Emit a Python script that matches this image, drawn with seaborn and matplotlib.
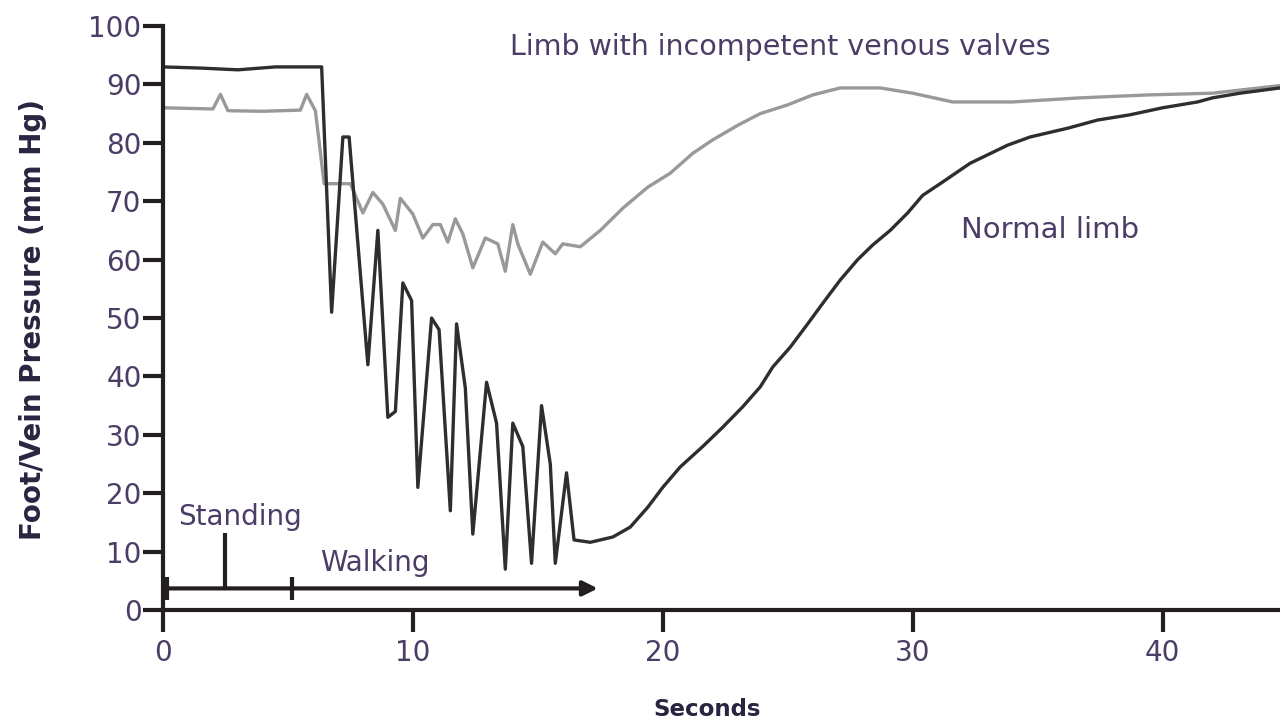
import pandas as pd
import matplotlib
matplotlib.use("Agg")
import matplotlib.pyplot as plt
import seaborn as sns

# Normal limb (black trace): time in seconds, foot vein pressure in mm Hg
normal_t = [0, 1.5, 3, 4.5, 6.35, 6.75, 7.2, 7.45, 8.2, 8.6, 9.0, 9.3, 9.6, 9.95,
            10.2, 10.75, 11.05, 11.5, 11.75, 12.1, 12.4, 12.95, 13.35, 13.7, 14.0,
            14.4, 14.75, 15.15, 15.5, 15.7, 16.15, 16.45, 17.1, 18.0, 18.7, 19.4,
            20.0, 20.7, 21.6, 22.4, 23.2, 23.9, 24.4, 25.1, 25.8, 26.4, 27.1, 27.8,
            28.4, 29.1, 29.8, 30.4, 31.1, 32.3, 33.8, 34.7, 36.2, 37.4, 38.7, 40.0,
            41.4, 42.0, 43.1, 44.7]
normal_p = [93, 92.8, 92.5, 93, 93, 51, 81, 81, 42, 65, 33, 34, 56, 53,
            21, 50, 48, 17, 49, 38, 13, 39, 32, 7, 32,
            28, 8, 35, 25, 8, 23.5, 12, 11.6, 12.5, 14.2, 17.6,
            21, 24.5, 28, 31.3, 34.8, 38.2, 41.6, 45, 49, 52.5, 56.5, 60,
            62.5, 65, 68, 71, 73, 76.5, 79.6, 81, 82.5, 83.9, 84.8, 86,
            87, 87.7, 88.5, 89.4]

# Limb with incompetent venous valves (grey trace)
incomp_t = [0, 2.0, 2.3, 2.6, 4.0, 5.5, 5.75, 6.1, 6.45, 7.5, 7.8, 8.0, 8.4, 8.8,
            9.3, 9.5, 10.0, 10.4, 10.8, 11.1, 11.4, 11.7, 12.0, 12.4, 12.9, 13.4,
            13.7, 14.0, 14.2, 14.7, 15.2, 15.7, 16.0, 16.7, 17.5, 18.4, 19.4, 20.3,
            21.2, 22.0, 23.0, 23.9, 25.0, 26.0, 27.1, 28.7, 30.0, 31.6, 34.0, 36.7,
            39.4, 42.0, 44.7]
incomp_p = [86, 85.8, 88.3, 85.5, 85.4, 85.6, 88.3, 85.5, 73, 73, 70, 68, 71.5, 69.5,
            65, 70.5, 67.8, 63.7, 66, 66, 63, 67, 64.4, 58.6, 63.7, 62.7,
            58, 66, 62.7, 57.5, 63, 61, 62.7, 62.2, 65, 68.8, 72.4, 74.8,
            78.2, 80.5, 83, 85, 86.5, 88.2, 89.4, 89.4, 88.5, 87, 87, 87.7,
            88.2, 88.5, 89.8]

# standing / walking timeline (seconds, mm Hg)
timeline_start = 0.15
timeline_end = 17.4
timeline_level = 3.7
timeline_ticks = [0.15, 5.15]
standing_mark = 2.5
standing_top = 13.2

x_ticks = [0, 10, 20, 30, 40]
y_ticks = [0, 10, 20, 30, 40, 50, 60, 70, 80, 90, 100]

normal = pd.DataFrame({"t": normal_t, "p": normal_p})
incomp = pd.DataFrame({"t": incomp_t, "p": incomp_p})

sns.set_style("ticks")
plt.rcParams["font.family"] = ["DejaVu Sans"]

ink = "#231f20"
txt = "#4b3d66"

fig = plt.figure(figsize=(12.8, 7.27), dpi=100)
ax = fig.add_axes([0.1273, 0.1609, 0.8727, 0.8033])

sns.lineplot(data=incomp, x="t", y="p", color="#999999", linewidth=2.4, ax=ax, sort=False)
sns.lineplot(data=normal, x="t", y="p", color="#2e2e2e", linewidth=2.4, ax=ax, sort=False)

# timeline with arrow
ax.annotate("", xy=(timeline_end, timeline_level), xytext=(timeline_start, timeline_level),
            arrowprops=dict(arrowstyle="-|>", color=ink, lw=3, mutation_scale=22,
                            shrinkA=0, shrinkB=0))
ax.vlines(timeline_ticks, timeline_level - 2, timeline_level + 2, color=ink, lw=3)
ax.vlines([standing_mark], timeline_level, standing_top, color=ink, lw=3)

ax.text(0.6, 16, "Standing", fontsize=20, color=txt, va="center", ha="left")
ax.text(6.3, 8, "Walking", fontsize=20, color=txt, va="center", ha="left")
ax.text(24.7, 96.4, "Limb with incompetent venous valves", fontsize=20.5, color=txt,
        va="center", ha="center")
ax.text(35.5, 65, "Normal limb", fontsize=21, color=txt, va="center", ha="center")

ax.set_xlim(0, 44.7)
ax.set_ylim(0, 100)
ax.set_xticks(x_ticks)
ax.set_yticks(y_ticks)
ax.tick_params(axis="both", colors=ink, width=3, labelcolor=txt, labelsize=20)
ax.tick_params(axis="y", length=14.4, pad=1)
ax.tick_params(axis="x", length=16, pad=5)

sns.despine(ax=ax)
for side in ["left", "bottom"]:
    ax.spines[side].set_linewidth(3)
    ax.spines[side].set_color(ink)

ax.set_xlabel("Seconds", fontsize=16.5, fontweight="bold", color="#2a2440")
ax.set_ylabel("Foot/Vein Pressure (mm Hg)", fontsize=20, fontweight="bold", color="#2a2440")
ax.xaxis.set_label_coords(0.487, -0.15)
ax.yaxis.set_label_coords(-0.104, 0.497)

fig.savefig("out.png", dpi=100)
